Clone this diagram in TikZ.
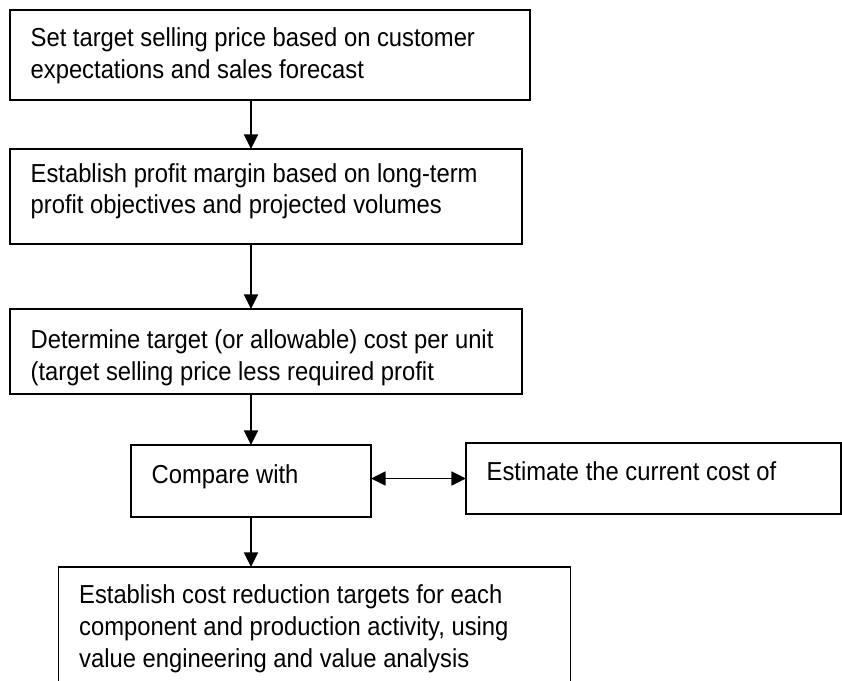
\documentclass[tikz,border=0pt]{standalone}
\usepackage{fontspec}
\setmainfont{Liberation Sans}[FakeStretch = 0.915]
\usetikzlibrary{arrows.meta}
\usetikzlibrary{positioning}

\begin{document}
\begin{tikzpicture} [
        every node/.style = {
          align = flush left,
          font = \fontsize{19.5pt}{24pt}\selectfont,
        },
        flowbox/.style = {
          draw,
          line width = 1.2pt,
          inner xsep = 15.5pt,
          inner ysep = 0pt,
          outer sep = 0pt,
        },
        flow/.style = {
          draw,
          line width = 1.2pt,
          -{Triangle[length = 11pt, width = 10.5pt]},
        },
        flowboth/.style = {
          draw,
          line width = 1.2pt,
          {Triangle[length = 11pt, width = 10.5pt]}-{Triangle[length = 11pt, width = 10.5pt]},
        },
      ]

    \useasboundingbox (0,0) rectangle (631.5pt,-510.75pt);

    % textboxes
    \node [flowbox, text width = 359pt, text height = 27.75pt, text depth = 39.75pt, anchor = north west] at (7.5pt,-7.5pt) (targetPrice) {Set target selling price based on customer\\expectations and sales forecast};
    \node [flowbox, text width = 353pt, text height = 24.75pt, text depth = 46.5pt, below = 36.75pt of targetPrice.south west, anchor = north west] (profitMargin) {Establish profit margin based on long-term\\profit objectives and projected volumes};
    \node [flowbox, text width = 353pt, text height = 29.25pt, text depth = 34.5pt, below = 48.75pt of profitMargin.south west, anchor = north west] (targetCost) {\mbox{Determine target (or allowable) cost per unit}\\(target selling price less required profit};

    \node [flowbox, text width = 149pt, text height = 28.5pt, text depth = 25.5pt, below = 38.25pt of targetCost.south west, anchor = north west, xshift = 90.75pt] (compare) {Compare with};
    \node [flowbox, text width = 250.25pt, text height = 27.75pt, text depth = 25.5pt, right = 71.25pt of compare.north east, anchor = north west, yshift = 1.5pt] (currentCost) {Estimate the current cost of};

    \node [flowbox, text width = 353pt, text height = 27pt, text depth = 67pt, below = 37.5pt of compare.south west, anchor = north west, xshift = -54.4pt] (costReduction) {Establish cost reduction targets for each\\component and production activity, using\\value engineering and value analysis};

    \draw[flow] (targetPrice.south -| compare.north) -- (profitMargin.north -| compare.north);
    \draw[flow] (profitMargin.south -| compare.north) -- (targetCost.north -| compare.north);
    \draw[flow] (targetCost.south -| compare.north) -- (compare.north);
    \draw[flow] (compare.south) -- (costReduction.north -| compare.south);
    \draw[flowboth] (compare.east |- currentCost.west) -- (currentCost.west);
  \end{tikzpicture}
\end{document}
